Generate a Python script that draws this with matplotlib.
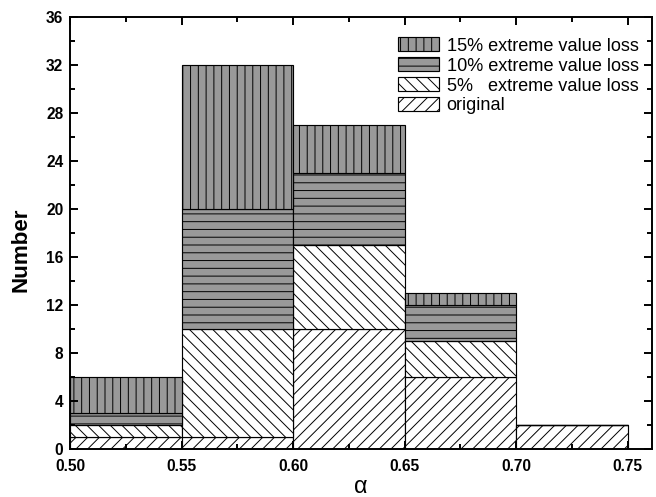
import numpy as np
import matplotlib
matplotlib.use("Agg")
import matplotlib.pyplot as plt

# bin left edges and stacked counts per layer
bin_left = [0.50, 0.55, 0.60, 0.65, 0.70]
original = [1, 1, 10, 6, 2]
loss5 = [1, 9, 7, 3, 0]
loss10 = [1, 10, 6, 3, 0]
loss15 = [3, 12, 4, 1, 0]

labels = ["original", "5%   extreme value loss", "10% extreme value loss", "15% extreme value loss"]
hatches = ["////", "\\\\\\\\", "---", "|||"]
faces = ["white", "white", "#999999", "#999999"]

plt.rcParams['font.family'] = ['Liberation Sans', 'DejaVu Sans']
plt.rcParams['hatch.linewidth'] = 0.5

dpi = 140
fig, ax = plt.subplots(figsize=(656 / dpi, 497 / dpi), dpi=dpi)
fig.subplots_adjust(left=0.107, right=0.994, top=0.966, bottom=0.097)

bottom = np.zeros(len(bin_left))
handles = []
for vals, lab, h, fc in zip([original, loss5, loss10, loss15], labels, hatches, faces):
    b = ax.bar(bin_left, vals, width=0.05, bottom=bottom, align='edge',
               color=fc, edgecolor='black', linewidth=0.6, hatch=h, label=lab)
    handles.append(b)
    bottom += np.array(vals)

ax.set_xlim(0.50, 0.761)
ax.set_ylim(0, 36)
ax.set_xticks(np.arange(0.50, 0.751, 0.05))
ax.set_xticks(np.arange(0.525, 0.76, 0.05), minor=True)
ax.set_yticks(np.arange(0, 37, 4))
ax.set_yticks(np.arange(2, 36, 4), minor=True)
ax.set_xticklabels([f"{v:.2f}" for v in np.arange(0.50, 0.751, 0.05)])

ax.tick_params(which='both', direction='in', top=True, right=True, width=1.0)
ax.tick_params(which='major', length=4, labelsize=8)
ax.tick_params(which='minor', length=2.5)
ax.tick_params(axis='x', which='major', pad=5)
for lab in ax.get_xticklabels() + ax.get_yticklabels():
    lab.set_fontweight('bold')
for s in ax.spines.values():
    s.set_linewidth(1.0)

ax.set_xlabel("α", fontsize=12, labelpad=1)
ax.set_ylabel("Number", fontsize=11.5, fontweight='bold')
ax.yaxis.set_label_coords(-0.067, 0.46)

ax.legend(handles[::-1], labels[::-1], loc='upper right', frameon=False,
          fontsize=9.3, handlelength=2.3, handleheight=0.8, handletextpad=0.4,
          labelspacing=0.15, borderaxespad=0.5, bbox_to_anchor=(1.005, 0.99))

fig.savefig("out.png", dpi=dpi)
